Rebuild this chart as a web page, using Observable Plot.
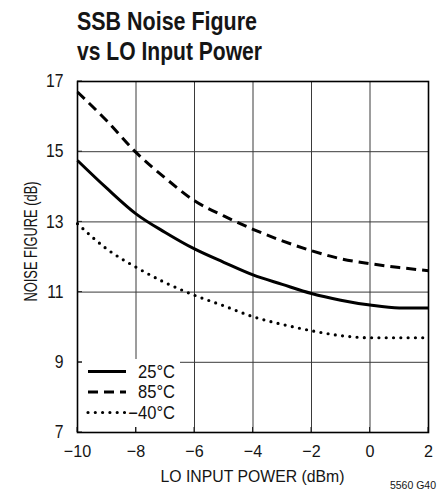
<!DOCTYPE html>
<html>
<head>
<meta charset="utf-8">
<script src="https://cdn.jsdelivr.net/npm/d3@7"></script>
<script src="https://cdn.jsdelivr.net/npm/@observablehq/plot@0.6"></script>
<style>
  html, body { margin: 0; padding: 0; background: white; }
  #chart { width: 437px; height: 495px; overflow: hidden; }
</style>
</head>
<body>
<div id="chart"></div>
<script>
const FONT = "'Liberation Sans', Arial, Helvetica, sans-serif";

// Data
const power = [-10, -9, -8, -7, -6, -5, -4, -3, -2, -1, 0, 1, 2];
const nf25  = [14.75, 13.96, 13.23, 12.70, 12.23, 11.85, 11.49, 11.22, 10.96, 10.77, 10.63, 10.55, 10.55];
const nf85  = [16.70, 15.88, 14.98, 14.25, 13.60, 13.17, 12.79, 12.46, 12.18, 11.95, 11.81, 11.70, 11.61];
const nfm40 = [12.95, 12.23, 11.71, 11.27, 10.91, 10.61, 10.30, 10.08, 9.90, 9.76, 9.70, 9.70, 9.70];
const seriesNames = ["25°C", "85°C", "−40°C"];
const xTicks = [-10, -8, -6, -4, -2, 0, 2];
const yTicks = [7, 9, 11, 13, 15, 17];
const titleLines = ["SSB Noise Figure", "vs LO Input Power"];
const xLabel = "LO INPUT POWER (dBm)";
const yLabel = "NOISE FIGURE (dB)";
const caption = "5560 G40";

const styles = {
  "25°C":  {strokeWidth: 3, strokeDasharray: null, strokeLinecap: "butt"},
  "85°C":  {strokeWidth: 3, strokeDasharray: "10,6", strokeLinecap: "butt"},
  "−40°C": {strokeWidth: 3.2, strokeDasharray: "0,7.3", strokeLinecap: "round"}
};

const seriesValues = [nf25, nf85, nfm40];
const rows = [];
seriesNames.forEach((s, i) => power.forEach((p, j) => rows.push({series: s, power: p, nf: seriesValues[i][j]})));

function legendAndTicks(index, scales, values, dimensions) {
  const {marginLeft, marginBottom, height} = dimensions;
  const x0 = marginLeft, yb = height - marginBottom;
  const g = d3.create("svg:g");
  g.append("rect").attr("x", x0 + 5).attr("y", yb - 73).attr("width", 98).attr("height", 68).attr("fill", "white");
  const rowY = [yb - 60.5, yb - 40, yb - 19.5];
  seriesNames.forEach((s, i) => {
    const st = styles[s];
    g.append("line").attr("x1", x0 + 11).attr("x2", x0 + 49).attr("y1", rowY[i]).attr("y2", rowY[i])
      .attr("stroke", "black").attr("stroke-width", st.strokeWidth)
      .attr("stroke-dasharray", st.strokeDasharray).attr("stroke-linecap", st.strokeLinecap);
    g.append("text").attr("transform", `translate(${x0 + 98},${rowY[i]}) scale(0.92,1)`).attr("dy", "0.36em")
      .attr("text-anchor", "end").attr("font-size", 18).attr("fill", "#111").text(s);
  });
  // inward frame ticks
  for (const t of xTicks) {
    const px = scales.x(t);
    g.append("line").attr("x1", px).attr("x2", px).attr("y1", yb).attr("y2", yb - 5).attr("stroke", "#222");
  }
  for (const t of yTicks) {
    const py = scales.y(t);
    g.append("line").attr("x1", x0).attr("x2", x0 + 5).attr("y1", py).attr("y2", py).attr("stroke", "#222");
  }
  return g.node();
}

function labels(index, scales, values, dimensions) {
  const {marginLeft, marginRight, marginTop, marginBottom, width, height} = dimensions;
  const g = d3.create("svg:g").attr("fill", "#151515");
  // title
  titleLines.forEach((t, i) => {
    g.append("text").attr("x", marginLeft).attr("y", 30 + 30 * i).attr("text-anchor", "start")
      .attr("font-size", 26).attr("font-weight", "bold")
      .attr("textLength", i === 0 ? 180 : 185).attr("lengthAdjust", "spacingAndGlyphs").text(t);
  });
  // x axis label
  const cx = (marginLeft + width - marginRight) / 2;
  g.append("text").attr("x", cx).attr("y", height - marginBottom + 50).attr("text-anchor", "middle")
    .attr("font-size", 17).attr("textLength", 184).attr("lengthAdjust", "spacingAndGlyphs").text(xLabel);
  // y axis label
  g.append("text").attr("transform", `translate(36.5,241.5) rotate(-90)`).attr("text-anchor", "middle")
    .attr("font-size", 19).attr("textLength", 120).attr("lengthAdjust", "spacingAndGlyphs").text(yLabel);
  // caption
  g.append("text").attr("x", width - 1).attr("y", 489).attr("text-anchor", "end")
    .attr("font-size", 10.5).text(caption);
  return g.node();
}

const lineMarks = seriesNames.map(s => Plot.line(rows.filter(r => r.series === s), {
  x: "power", y: "nf", curve: "monotone-x", stroke: "black",
  strokeWidth: styles[s].strokeWidth,
  strokeDasharray: styles[s].strokeDasharray,
  strokeLinecap: styles[s].strokeLinecap
}));

const plot = Plot.plot({
  width: 437,
  height: 495,
  marginLeft: 77,
  marginRight: 9,
  marginTop: 81,
  marginBottom: 63,
  style: {fontFamily: FONT, fontSize: "17px", color: "#151515", background: "white"},
  x: {domain: [-10, 2]},
  y: {domain: [7, 17]},
  marks: [
    Plot.gridX(xTicks, {stroke: "#3a3a3a", strokeOpacity: 1, strokeWidth: 1}),
    Plot.gridY(yTicks, {stroke: "#3a3a3a", strokeOpacity: 1, strokeWidth: 1}),
    legendAndTicks,
    Plot.frame({stroke: "#000", strokeWidth: 1.6}),
    Plot.axisX(xTicks, {tickSize: 0, tickPadding: 12, fontSize: 17, label: null}),
    Plot.axisY(yTicks, {tickSize: 0, tickPadding: 14, fontSize: 17.5, label: null}),
    labels,
    ...lineMarks
  ]
});

// slightly condense tick labels (reference uses a condensed face)
function squeeze(sel, s) {
  plot.querySelectorAll(sel).forEach(t => {
    const x = t.getAttribute("x");
    let tr = t.getAttribute("transform") || "";
    if (x != null && isFinite(+x)) {
      tr = `translate(${+x},0) ` + tr;
      t.removeAttribute("x");
    }
    t.setAttribute("transform", (tr + ` scale(${s},1)`).trim());
  });
}
squeeze('g[aria-label="x-axis tick label"] text', 0.95);
squeeze('g[aria-label="y-axis tick label"] text', 0.9);

document.getElementById("chart").appendChild(plot);
</script>
</body>
</html>
